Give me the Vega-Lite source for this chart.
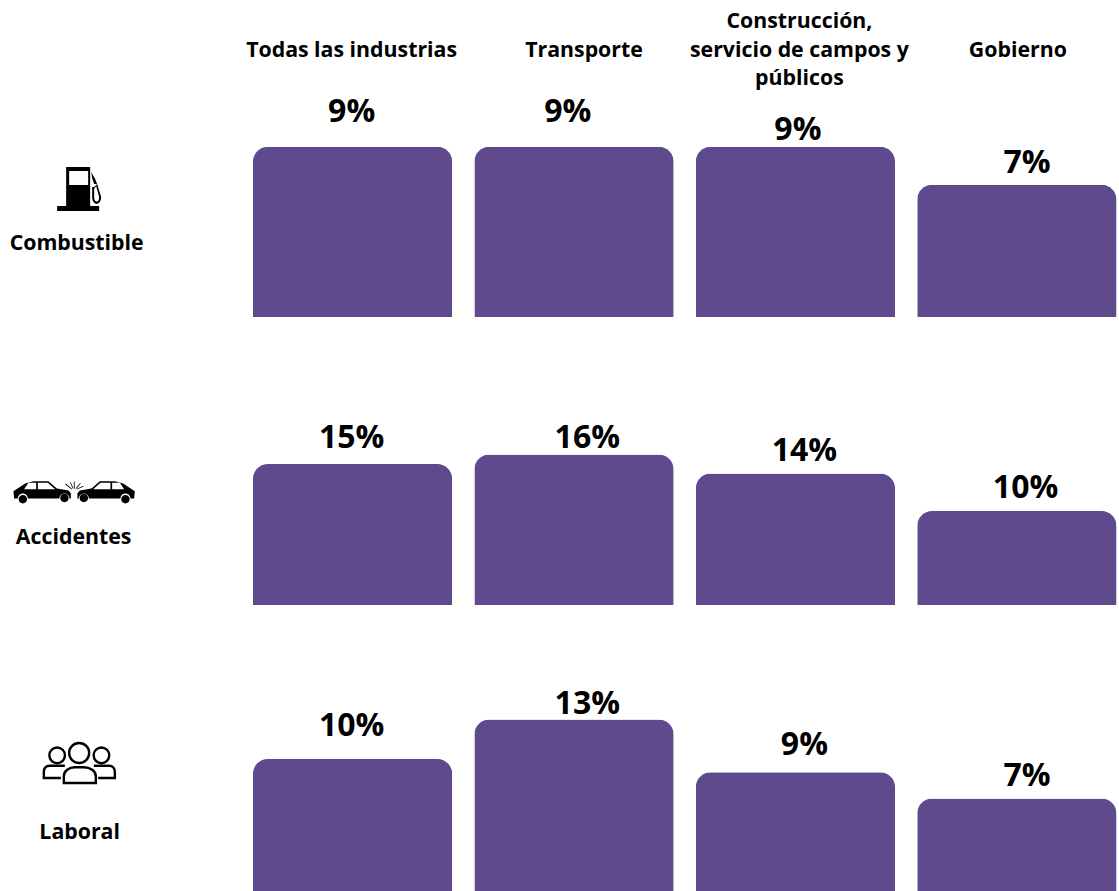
{
"$schema":"https://vega.github.io/schema/vega-lite/v6.json",
"padding":{"left":0,"top":10,"right":0,"bottom":0},
"background":"white",
"config":{"view":{"stroke":null},"text":{"font":"Open Sans"},"axis":{"labelFont":"Open Sans"}},
"spacing":0,
"datasets":{
"fila1":[{"columna":"Todas las industrias","valor":9,"etiqueta":"9%"},{"columna":"Transporte","valor":9,"etiqueta":"9%"},{"columna":"Construcción,\nservicio de campos y\npúblicos","valor":9,"etiqueta":"9%"},{"columna":"Gobierno","valor":7,"etiqueta":"7%"}],
"fila2":[{"columna":"Todas las industrias","valor":15,"etiqueta":"15%"},{"columna":"Transporte","valor":16,"etiqueta":"16%"},{"columna":"Construcción,\nservicio de campos y\npúblicos","valor":14,"etiqueta":"14%"},{"columna":"Gobierno","valor":10,"etiqueta":"10%"}],
"fila3":[{"columna":"Todas las industrias","valor":10,"etiqueta":"10%"},{"columna":"Transporte","valor":13,"etiqueta":"13%"},{"columna":"Construcción,\nservicio de campos y\npúblicos","valor":9,"etiqueta":"9%"},{"columna":"Gobierno","valor":7,"etiqueta":"7%"}]
},
"vconcat":[
{"width":1119,"height":225,"data":{"name":"fila1"},
"encoding":{"x":{"field":"columna","type":"nominal","title":null,"scale":{"domain":["fila","Todas las industrias","Transporte","Construcción,\nservicio de campos y\npúblicos","Gobierno"],"range":[31.5,1116.5],"paddingInner":0.1,"paddingOuter":0},
"axis":{"orient":"top","domain":false,"ticks":false,"grid":false,"title":null,"labelAngle":0,"labelFont":"Open Sans","labelFontWeight":"bold","labelFontSize":21.3,"labelColor":"#000000","labelLineHeight":28.5,"labelBaseline":"middle","labelPadding":{"condition":{"test":"indexof(datum.value,'Constr')==0","value":70.5},"value":42},"labelLimit":0,"labelOverlap":false,"labelFlush":false,"labelExpr":"datum.value=='fila'?'':split(datum.label,'\\n')","labelOffset":{"condition":[{"test":"datum.value=='Transporte'","value":10},{"test":"datum.value=='Gobierno'","value":1},{"test":"datum.value=='Todas las industrias'","value":-1}],"value":4}}},
"y":{"field":"valor","type":"quantitative","axis":null,"scale":{"domain":[0,11.9],"nice":false}}},
"layer":[
{"mark":{"type":"bar","color":"#5E4A8D","cornerRadiusTopLeft":15,"cornerRadiusTopRight":15}},
{"transform":[{"filter":"datum.columna=='Todas las industrias'"}],"mark":{"type":"text","fontSize":32,"fontWeight":"bold","color":"#000000","baseline":"middle","dx":-0.9,"dy":-35},"encoding":{"text":{"field":"etiqueta"}}},
{"transform":[{"filter":"datum.columna=='Transporte'"}],"mark":{"type":"text","fontSize":32,"fontWeight":"bold","color":"#000000","baseline":"middle","dx":-6.2,"dy":-35},"encoding":{"text":{"field":"etiqueta"}}},
{"transform":[{"filter":"indexof(datum.columna,'Constr')==0"}],"mark":{"type":"text","fontSize":32,"fontWeight":"bold","color":"#000000","baseline":"middle","dx":2.5,"dy":-17},"encoding":{"text":{"field":"etiqueta"}}},
{"transform":[{"filter":"datum.columna=='Gobierno'"}],"mark":{"type":"text","fontSize":32,"fontWeight":"bold","color":"#000000","baseline":"middle","dx":10.2,"dy":-22},"encoding":{"text":{"field":"etiqueta"}}},
{"data":{"values":[{"columna":"fila","valor":3.86,"nombre":"Combustible"}]},"mark":{"type":"text","fontSize":21.3,"fontWeight":"bold","color":"#000000","baseline":"middle","dx":-54.5},"encoding":{"text":{"field":"nombre"}}},
{"data":{"values":[{"columna":"fila","valor":6.77,"nombre":"Combustible"}]},"mark":{"type":"point","filled":true,"color":"#000000","opacity":1,"size":4,"xOffset":-52,"shape":"M-22 17H20V22H-22ZM-13 -22H11V17H-13ZM-10 -18V-4H9V-18ZM12 -17L16 -10L18 -5L15 -5L13 -11ZM15 -2L18 -5L22 8C22 17 13 17 13 8L13 -2ZM15 0L15 8C15 14 20 14 20 8L17 -3Z"}}
]},
{"width":1119,"height":288,"data":{"name":"fila2"},
"encoding":{"x":{"field":"columna","type":"nominal","title":null,"axis":null,"scale":{"domain":["fila","Todas las industrias","Transporte","Construcción,\nservicio de campos y\npúblicos","Gobierno"],"range":[31.5,1116.5],"paddingInner":0.1,"paddingOuter":0}},
"y":{"field":"valor","type":"quantitative","axis":null,"scale":{"domain":[0,30.64],"nice":false}}},
"layer":[
{"mark":{"type":"bar","color":"#5E4A8D","cornerRadiusTopLeft":15,"cornerRadiusTopRight":15}},
{"transform":[{"filter":"datum.columna=='Todas las industrias'"}],"mark":{"type":"text","fontSize":32,"fontWeight":"bold","color":"#000000","baseline":"middle","dx":-0.9,"dy":-26},"encoding":{"text":{"field":"etiqueta"}}},
{"transform":[{"filter":"datum.columna=='Transporte'"}],"mark":{"type":"text","fontSize":32,"fontWeight":"bold","color":"#000000","baseline":"middle","dx":13.3,"dy":-17},"encoding":{"text":{"field":"etiqueta"}}},
{"transform":[{"filter":"indexof(datum.columna,'Constr')==0"}],"mark":{"type":"text","fontSize":32,"fontWeight":"bold","color":"#000000","baseline":"middle","dx":9,"dy":-22},"encoding":{"text":{"field":"etiqueta"}}},
{"transform":[{"filter":"datum.columna=='Gobierno'"}],"mark":{"type":"text","fontSize":32,"fontWeight":"bold","color":"#000000","baseline":"middle","dx":8.7,"dy":-23},"encoding":{"text":{"field":"etiqueta"}}},
{"data":{"values":[{"columna":"fila","valor":7.12,"nombre":"Accidentes"}]},"mark":{"type":"text","fontSize":21.3,"fontWeight":"bold","color":"#000000","baseline":"middle","dx":-57.5},"encoding":{"text":{"field":"nombre"}}},
{"data":{"values":[{"columna":"fila","valor":11.97,"nombre":"Accidentes"}]},"mark":{"type":"point","filled":true,"color":"#000000","opacity":1,"size":4,"xOffset":-57,"shape":"M-60.7 -1.3L-49 -9L-40.7 -11.3H-25.7L-17.3 -4L-5.7 -2L-3.3 0.7V6H-4.7A5 5 0 0 0 -14.7 6H-46.3A5 5 0 0 0 -56.3 6H-60ZM-50 -3.3H-38V-9.7H-45.7ZM-36.3 -3.3H-19L-26.3 -9.7H-36.3ZM-55.5 6.7a4.2 4.2 0 1 0 8.4 0a4.2 4.2 0 1 0 -8.4 0ZM-13.9 5.5a4.2 4.2 0 1 0 8.4 0a4.2 4.2 0 1 0 -8.4 0ZM60.7 -1.3L49 -9L40.7 -11.3H25.7L17.3 -4L5.7 -2L3.3 0.7V6H4.7A5 5 0 0 1 14.7 6H46.3A5 5 0 0 1 56.3 6H60ZM50 -3.3H38V-9.7H45.7ZM36.3 -3.3H19L26.3 -9.7H36.3ZM47.1 6.7a4.2 4.2 0 1 0 8.4 0a4.2 4.2 0 1 0 -8.4 0ZM5.5 5.5a4.2 4.2 0 1 0 8.4 0a4.2 4.2 0 1 0 -8.4 0ZM-9 -8.3L-8.4 -8.9L-2 -3.6L-2.6 -3ZM-4.2 -10L-3.5 -10.3L-0.6 -4L-1.3 -3.7ZM-0.4 -11H0.4L0.6 -4H-0.2ZM6 -9.6L6.6 -9.1L2 -3.6L1.4 -4ZM9 -6.8L9.4 -6.1L3 -3L2.6 -3.6Z"}}
]},
{"width":1119,"height":286,"data":{"name":"fila3"},
"encoding":{"x":{"field":"columna","type":"nominal","title":null,"axis":null,"scale":{"domain":["fila","Todas las industrias","Transporte","Construcción,\nservicio de campos y\npúblicos","Gobierno"],"range":[31.5,1116.5],"paddingInner":0.1,"paddingOuter":0}},
"y":{"field":"valor","type":"quantitative","axis":null,"scale":{"domain":[0,21.67],"nice":false}}},
"layer":[
{"mark":{"type":"bar","color":"#5E4A8D","cornerRadiusTopLeft":15,"cornerRadiusTopRight":15}},
{"transform":[{"filter":"datum.columna=='Todas las industrias'"}],"mark":{"type":"text","fontSize":32,"fontWeight":"bold","color":"#000000","baseline":"middle","dx":-0.9,"dy":-33},"encoding":{"text":{"field":"etiqueta"}}},
{"transform":[{"filter":"datum.columna=='Transporte'"}],"mark":{"type":"text","fontSize":32,"fontWeight":"bold","color":"#000000","baseline":"middle","dx":13.3,"dy":-15},"encoding":{"text":{"field":"etiqueta"}}},
{"transform":[{"filter":"indexof(datum.columna,'Constr')==0"}],"mark":{"type":"text","fontSize":32,"fontWeight":"bold","color":"#000000","baseline":"middle","dx":9,"dy":-27},"encoding":{"text":{"field":"etiqueta"}}},
{"transform":[{"filter":"datum.columna=='Gobierno'"}],"mark":{"type":"text","fontSize":32,"fontWeight":"bold","color":"#000000","baseline":"middle","dx":10.2,"dy":-23},"encoding":{"text":{"field":"etiqueta"}}},
{"data":{"values":[{"columna":"fila","valor":4.4,"nombre":"Laboral"}]},"mark":{"type":"text","fontSize":21.3,"fontWeight":"bold","color":"#000000","baseline":"middle","dx":-51.5},"encoding":{"text":{"field":"nombre"}}},
{"data":{"values":[{"columna":"fila","valor":9.7,"nombre":"Laboral"}]},"mark":{"type":"point","filled":false,"stroke":"#000000","strokeWidth":2.4,"fill":null,"opacity":1,"size":4,"xOffset":-52,"shape":"M-10 -10a10 10 0 1 0 20 0a10 10 0 1 0 -20 0ZM-29.8 -7.7a7.8 7.8 0 1 0 15.6 0a7.8 7.8 0 1 0 -15.6 0ZM14.5 -7.7a7.8 7.8 0 1 0 15.6 0a7.8 7.8 0 1 0 -15.6 0ZM-15.3 20V13.3C-15.3 8 -10 4.3 -4.3 4.3H4.7C11 4.3 16.7 8 16.7 13.3V20ZM-18.3 15H-35.3V9C-35.3 5 -33 2.7 -29.3 2.7H-14.3M19 15H35.7V9C35.7 5 33 2.7 30 2.7H14.7"}}
]}
]
}
